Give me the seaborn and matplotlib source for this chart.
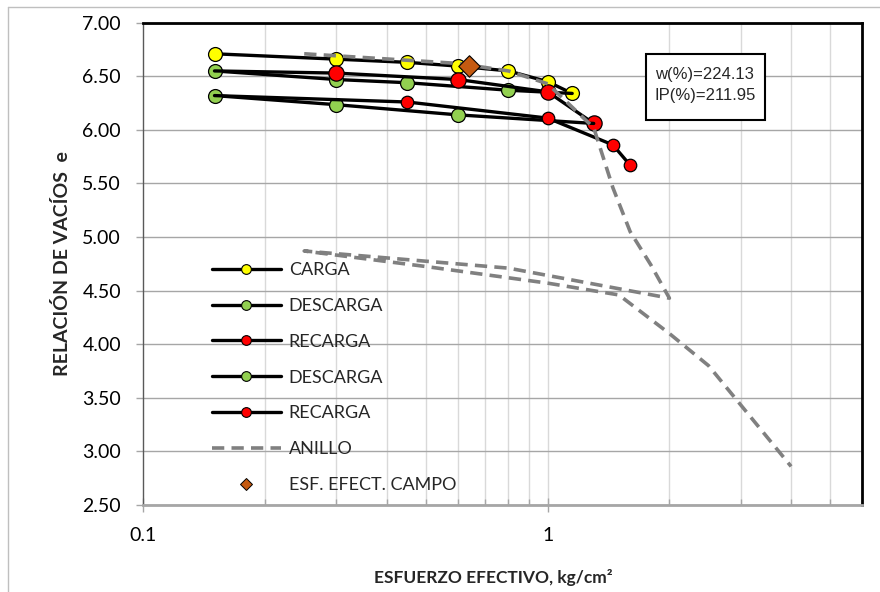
import numpy as np
import pandas as pd
import matplotlib
matplotlib.use("Agg")
import matplotlib.pyplot as plt
import seaborn as sns
from matplotlib.lines import Line2D
from matplotlib.patches import Rectangle
from matplotlib.ticker import FixedLocator, NullFormatter, LogLocator

# ---------------- data ----------------
carga_x = [0.15, 0.3, 0.45, 0.6, 0.8, 1.0, 1.15]
carga_y = [6.71, 6.66, 6.63, 6.595, 6.55, 6.45, 6.34]

descarga1_x = [1.15, 0.8, 0.45, 0.3, 0.15]
descarga1_y = [6.34, 6.37, 6.44, 6.47, 6.55]

recarga1_x = [0.15, 0.3, 0.6, 1.0, 1.3]
recarga1_y = [6.55, 6.53, 6.47, 6.355, 6.06]

descarga2_x = [1.3, 0.6, 0.3, 0.15]
descarga2_y = [6.06, 6.14, 6.235, 6.32]

recarga2_x = [0.15, 0.45, 1.0, 1.45, 1.6]
recarga2_y = [6.32, 6.26, 6.11, 5.86, 5.67]

anillo_x = [0.25, 0.6, 0.8, 1.0, 1.3, 1.45, 1.6, 1.8, 2.0,
            0.8, 0.25,
            0.5, 1.0, 1.5, 2.0, 2.5, 4.0]
anillo_y = [6.71, 6.62, 6.55, 6.43, 6.02, 5.46, 5.05, 4.74, 4.43,
            4.71, 4.87,
            4.725, 4.57, 4.46, 4.10, 3.80, 2.86]

campo_x = [0.64]
campo_y = [6.595]

legend_labels = ["CARGA", "DESCARGA", "RECARGA", "DESCARGA", "RECARGA",
                 "ANILLO", "ESF. EFECT. CAMPO"]
y_ticks = [2.5, 3.0, 3.5, 4.0, 4.5, 5.0, 5.5, 6.0, 6.5, 7.0]
x_major = [0.1, 1]
x_major_labels = ["0.1", "1"]
info_text = "w(%)=224.13\nIP(%)=211.95"

# ---------------- style ----------------
sns.set_theme(style="white")
plt.rcParams['font.family'] = ['Lato', 'DejaVu Sans']

YELLOW = "#FFFF00"
GREEN = "#92D050"
RED = "#FF0000"
BROWN = "#C55A11"
GRAY_DASH = "#808080"

fig = plt.figure(figsize=(8.8, 5.92), dpi=100)
W, H = 880, 592
ax = fig.add_axes([143.3 / W, 1 - 505 / H, (862.3 - 143.3) / W, (505 - 22.7) / H])

# outer chart border (light gray)
fig.add_artist(Line2D([8 / W, 8 / W], [0, 1 - 7 / H], transform=fig.transFigure,
                      color="#BFBFBF", lw=1.0))
fig.add_artist(Line2D([8 / W, 1], [1 - 7 / H, 1 - 7 / H], transform=fig.transFigure,
                      color="#BFBFBF", lw=1.0))

ax.set_xscale("log")
ax.set_xlim(0.1, 6)
ax.set_ylim(2.5, 7.0)

# grid
ax.set_yticks(y_ticks)
ax.set_yticklabels([f"{v:.2f}" for v in y_ticks])
ax.xaxis.set_major_locator(FixedLocator(x_major))
ax.set_xticklabels(x_major_labels)
ax.xaxis.set_minor_locator(LogLocator(base=10, subs=np.arange(2, 10)))
ax.xaxis.set_minor_formatter(NullFormatter())
ax.grid(False)
for v in y_ticks:
    ax.axhline(v, color="#A6A6A6", lw=1.0, zorder=0.5)
for dec in [0.1, 1]:
    for m in range(1, 10):
        xv = dec * m
        if 0.1 < xv < 6:
            ax.axvline(xv, color="#D9D9D9", lw=1.0, zorder=0.4)

for s in ["top", "right"]:
    ax.spines[s].set_color("black")
    ax.spines[s].set_linewidth(2.0)
ax.spines["left"].set_color("#595959")
ax.spines["left"].set_linewidth(1.0)
ax.spines["bottom"].set_color("#A6A6A6")
ax.spines["bottom"].set_linewidth(2.0)

ax.tick_params(axis="y", which="major", direction="out", length=5, width=1,
               color="#A6A6A6", labelsize=14, pad=11, left=True, labelcolor="black")
ax.tick_params(axis="x", which="major", direction="inout", length=10, width=1,
               color="#A6A6A6", labelsize=14, pad=11, bottom=True, labelcolor="black")
ax.tick_params(axis="x", which="minor", direction="in", length=4, width=1,
               color="#A6A6A6", bottom=True)

lw = 2.4
series = [
    (carga_x, carga_y, YELLOW, 10, None),
    (descarga1_x, descarga1_y, GREEN, 10, slice(1, None)),
    (recarga1_x, recarga1_y, RED, 11, slice(1, None)),
    (descarga2_x, descarga2_y, GREEN, 10, slice(1, None)),
    (recarga2_x, recarga2_y, RED, 9, slice(1, None)),
]
for i, (xs, ys, col, ms, mev) in enumerate(series):
    sns.lineplot(x=xs, y=ys, sort=False, estimator=None, ax=ax, color="black",
                 lw=lw, marker="o", markersize=ms, markerfacecolor=col,
                 markeredgecolor="black", markeredgewidth=0.9, markevery=mev,
                 zorder=3 + i * 0.1)

sns.lineplot(x=anillo_x, y=anillo_y, sort=False, estimator=None, ax=ax,
             color=GRAY_DASH, lw=2.6, zorder=4)
ax.lines[-1].set_linestyle((0, (3.4, 2.0)))

sns.scatterplot(x=campo_x, y=campo_y, ax=ax, marker="D", s=120, color=BROWN,
                edgecolor="black", linewidth=0.8, zorder=5)

# legend
def circ(col):
    return Line2D([], [], color="black", lw=lw, marker="o", markersize=7,
                  markerfacecolor=col, markeredgecolor="black", markeredgewidth=0.8)

handles = [
    circ(YELLOW), circ(GREEN), circ(RED), circ(GREEN), circ(RED),
    Line2D([], [], color=GRAY_DASH, lw=2.6, linestyle=(0, (3.4, 2.0))),
    Line2D([], [], color=BROWN, lw=0, marker="D", markersize=6,
           markeredgecolor="black", markeredgewidth=0.7),
]
leg = ax.legend(handles, legend_labels, loc="upper left",
                bbox_to_anchor=(212 / W, 1 - 262 / H), bbox_transform=fig.transFigure,
                frameon=False, fontsize=13, handlelength=3.8, handletextpad=0.45,
                labelspacing=1.1, borderpad=0, borderaxespad=0)

# info box
fig.add_artist(Rectangle((646 / W, 1 - 120 / H), (765 - 646) / W, (120 - 54) / H,
                         transform=fig.transFigure, facecolor="white",
                         edgecolor="black", lw=1.5, zorder=6))
fig.text(655 / W, 1 - 85 / H, info_text,
         fontsize=12, family=["Liberation Sans", "DejaVu Sans"], va="center", ha="left",
         linespacing=1.45, zorder=7)

ax.set_xlabel("ESFUERZO EFECTIVO, kg/cm²", fontsize=12.5, fontweight="bold")
ax.xaxis.set_label_coords((493.5 - 143.3) / 719, -(578 - 505) / 482.3, transform=ax.transAxes)
ax.xaxis.label.set_va("center")
ax.set_ylabel("RELACIÓN DE VACÍOS  e", fontsize=14, fontweight="bold", labelpad=8)

fig.savefig("out.png", dpi=100)
